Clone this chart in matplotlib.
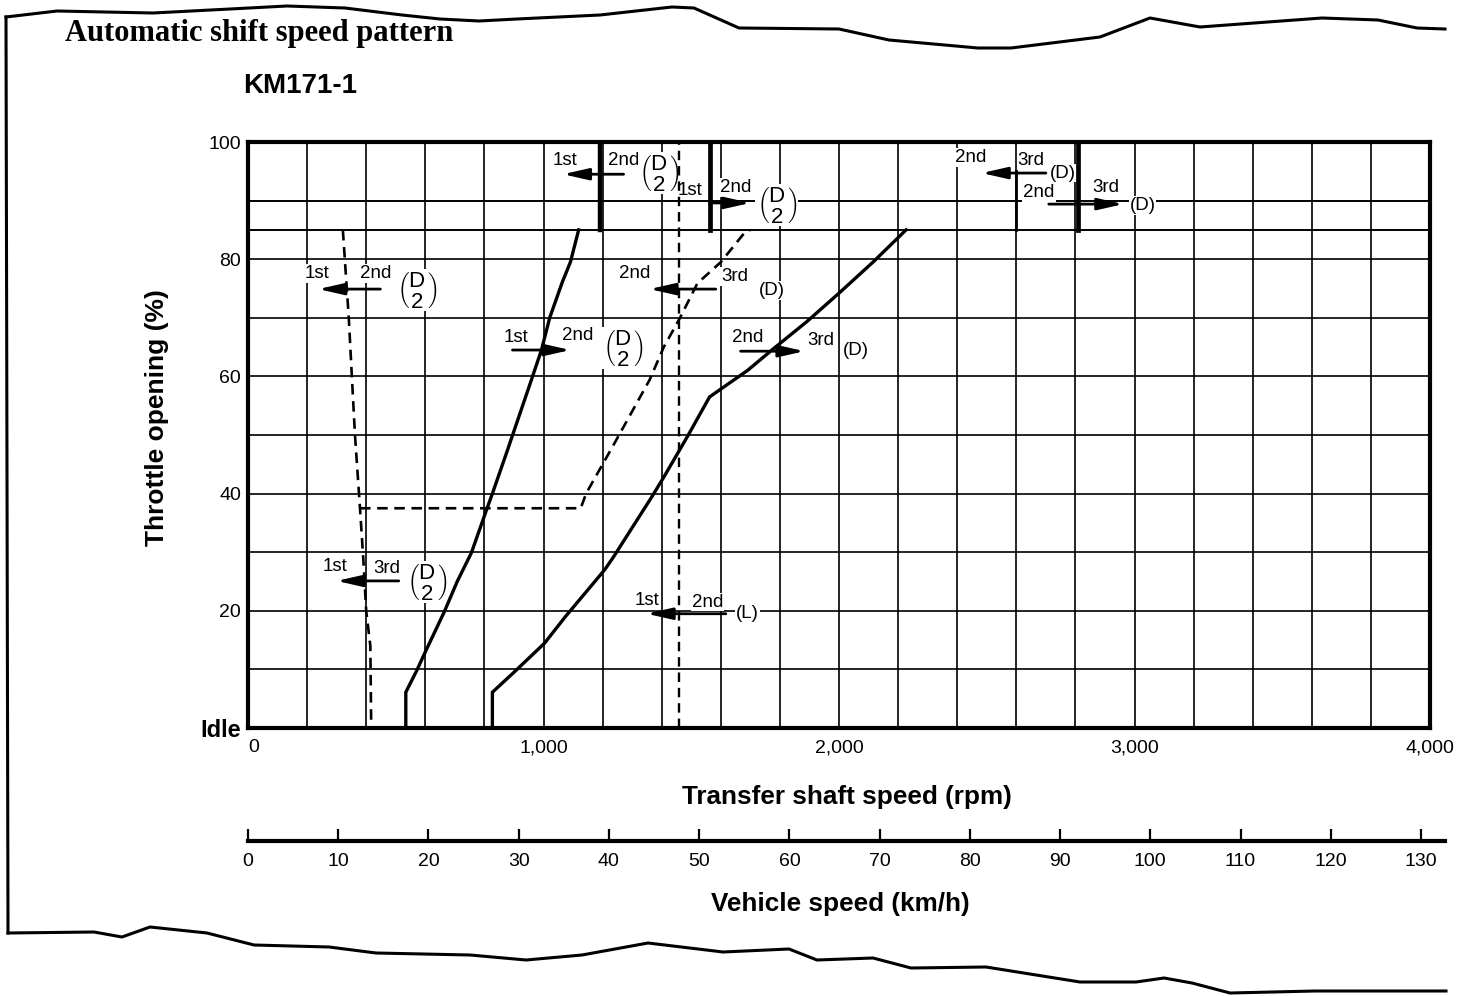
import matplotlib
matplotlib.use('Agg')
import matplotlib.pyplot as plt
from matplotlib.lines import Line2D

plt.rcParams['font.family'] = ['Liberation Sans', 'DejaVu Sans']
plt.rcParams['mathtext.fontset'] = 'custom'
plt.rcParams['mathtext.rm'] = 'Liberation Sans'
plt.rcParams['mathtext.it'] = 'Liberation Sans:italic'
plt.rcParams['mathtext.bf'] = 'Liberation Sans:bold'

# ---------------- data ----------------
# 1st -> 2nd upshift (D, 2), solid
up12_rpm = [534, 534, 569, 603, 664, 708, 756, 807, 827, 878, 959, 993, 1021, 1063, 1091, 1119]
up12_thr = [0, 6.1, 9.6, 13.3, 19.8, 25, 29.9, 37.2, 40, 47.4, 59.4, 64.5, 70, 76, 79.5, 85]

# 2nd -> 3rd upshift (D), solid
up23_rpm = [827, 827, 902, 1004, 1074, 1207, 1237, 1366, 1407, 1490, 1562, 1690, 1780, 1890, 2000, 2115, 2227]
up23_thr = [0, 6.1, 9.6, 14.5, 19, 27, 29.2, 39.4, 42.8, 50, 56.5, 61, 64.8, 69.3, 74.2, 79.5, 85]

# 1st <- 2nd / 1st <- 3rd downshift (D, 2), dashed
down1_rpm = [321, 341, 352, 362, 379, 390, 400, 414, 417]
down1_thr = [85, 70, 59.5, 50, 37.5, 29, 20, 14, 0]

# 2nd <- 3rd downshift (D), dashed
down23_rpm = [379, 1126, 1144, 1237, 1359, 1407, 1462, 1521, 1600, 1680, 1700]
down23_thr = [37.5, 37.5, 40, 48.3, 59.4, 65, 70, 75.9, 79.5, 84.5, 85]

# 1st <- 2nd (L) downshift, dashed vertical over the whole range
down12L_rpm = [1460, 1460]
down12L_thr = [0, 100]

# kickdown (85-100 %) shift points
kd_down12_rpm = [1190, 1190]
kd_up12_rpm = [1562, 1562]
kd_up23_rpm = [2810, 2810]
kd_thr = [85, 100]
kd_down23_rpm = [2600, 2600]
kd_down23_thr = [85, 95]

# axes ticks
rpm_ticks = [0, 1000, 2000, 3000, 4000]
rpm_tick_labels = ['0', '1,000', '2,000', '3,000', '4,000']
thr_ticks = [0, 20, 40, 60, 80, 100]
thr_tick_labels = ['Idle', '20', '40', '60', '80', '100']
rpm_grid = list(range(0, 4001, 200))
thr_grid = [10, 20, 30, 40, 50, 60, 70, 80, 85, 90]
kmh_ticks = [0, 10, 20, 30, 40, 50, 60, 70, 80, 90, 100, 110, 120, 130]

# shift-direction arrows: (tail rpm, head rpm, throttle %)
arrows = [
    (1271, 1066, 94.5), (1562, 1700, 89.6), (2700, 2483, 94.7), (2710, 2962, 89.4),
    (448, 238, 74.9), (1583, 1359, 74.9), (895, 1091, 64.5), (1667, 1883, 64.3),
    (510, 300, 25.1), (1617, 1349, 19.5),
]
BIN = r'$\genfrac{(}{)}{0}{0}{\mathrm{D}}{\mathrm{2}}$'
labels = [
    ('1st', 1074, 96.9), ('2nd', 1271, 96.9), (BIN, 1393, 94.7),
    ('1st', 1497, 91.8), ('2nd', 1650, 92.2), (BIN, 1790, 89.2),
    ('2nd', 2445, 97.3), ('3rd', 2650, 96.9), ('(D)', 2757, 94.7),
    ('2nd', 2677, 91.3), ('3rd', 2903, 92.2), ('(D)', 3027, 89.2),
    ('1st', 234, 77.6), ('2nd', 431, 77.6), (BIN, 572, 74.7),
    ('2nd', 1308, 77.6), ('3rd', 1647, 77.0), ('(D)', 1773, 74.7),
    ('1st', 908, 66.7), ('2nd', 1116, 67.0), (BIN, 1271, 64.8),
    ('2nd', 1690, 66.6), ('3rd', 1940, 66.2), ('(D)', 2058, 64.5),
    ('1st', 293, 27.5), ('3rd', 469, 27.3), (BIN, 607, 24.9),
    ('1st', 1349, 21.8), ('2nd', 1555, 21.5), ('(L)', 1690, 19.5),
]

# ---------------- figure ----------------
W, H = 1472, 996
fig = plt.figure(figsize=(W / 100, H / 100), dpi=100)
fig.patch.set_facecolor('white')

ax = fig.add_axes([248 / W, 1 - 728 / H, (1430 - 248) / W, (728 - 142) / H])
ax.set_xlim(0, 4000)
ax.set_ylim(0, 100)

for x in rpm_grid:
    ax.axvline(x, color='black', lw=1.2, zorder=1)
for y in thr_grid:
    ax.axhline(y, color='black', lw=1.4 if y in (85, 90) else 1.2, zorder=1)

for s in ax.spines.values():
    s.set_linewidth(3)
    s.set_zorder(6)

ax.set_xticks(rpm_ticks)
ax.set_xticklabels(rpm_tick_labels)
ax.set_yticks(thr_ticks)
ax.set_yticklabels(thr_tick_labels)
ax.tick_params(axis='x', length=0, pad=8, labelsize=14)
ax.tick_params(axis='y', length=0, pad=5, labelsize=14)
ax.get_yticklabels()[0].set_fontweight('bold')
ax.get_yticklabels()[0].set_fontsize(17)
ax.get_xticklabels()[0].set_ha('left')

ax.set_xlabel('Transfer shaft speed (rpm)', fontsize=18.8, fontweight='bold')
ax.xaxis.set_label_coords(0.507, -0.118)
ax.xaxis.label.set_va('center')
ax.set_ylabel('Throttle opening (%)', fontsize=19, fontweight='bold')
ax.yaxis.set_label_coords(-0.077, 0.529)
ax.yaxis.label.set_va('center')

# shift lines
ax.plot(up12_rpm, up12_thr, color='black', lw=2.4, zorder=4)
ax.plot(up23_rpm, up23_thr, color='black', lw=2.4, zorder=4)
dash = (0, (4, 2.5))
ax.plot(down1_rpm, down1_thr, color='black', lw=1.9, ls=dash, zorder=4)
ax.plot(down23_rpm, down23_thr, color='black', lw=1.9, ls=dash, zorder=4)
ax.plot(down12L_rpm, down12L_thr, color='black', lw=1.7, ls=dash, zorder=4)
ax.plot(kd_down12_rpm, kd_thr, color='black', lw=3.2, zorder=4)
ax.plot(kd_up12_rpm, kd_thr, color='black', lw=3.4, zorder=4)
ax.plot(kd_up23_rpm, kd_thr, color='black', lw=3.4, zorder=4)
ax.plot(kd_down23_rpm, kd_down23_thr, color='black', lw=2.0, zorder=4)

for tail, head, y in arrows:
    ax.annotate('', xy=(head, y), xytext=(tail, y),
                arrowprops=dict(arrowstyle='-|>,head_length=1.1,head_width=0.25',
                                lw=2.0, color='black', shrinkA=0, shrinkB=0,
                                mutation_scale=14),
                zorder=5)

for s, x, y in labels:
    fs = 16 if s == BIN else 13.5
    ax.text(x, y, s, ha='center', va='center', fontsize=fs, zorder=3,
            bbox=dict(boxstyle='square,pad=0.05', fc='white', ec='none'))

# vehicle speed scale
ax2 = fig.add_axes([248 / W, 1 - 841 / H, (1445 - 248) / W, 0.0001])
ax2.set_xlim(0, 132.66)
ax2.set_ylim(0, 1)
for s in ['top', 'left', 'right']:
    ax2.spines[s].set_visible(False)
ax2.spines['bottom'].set_linewidth(3)
ax2.set_yticks([])
ax2.set_xticks(kmh_ticks)
ax2.set_xticklabels([str(v) for v in kmh_ticks])
ax2.tick_params(axis='x', direction='in', length=9, width=1.6, pad=9, labelsize=14)
ax2.patch.set_alpha(0)

fig.text(840 / W, 1 - 904 / H, 'Vehicle speed (km/h)', fontsize=18.8, fontweight='bold',
         ha='center', va='center')
fig.text(65 / W, 1 - 33 / H, 'Automatic shift speed pattern', family=['Liberation Serif', 'DejaVu Serif'],
         fontweight='bold', fontsize=22, ha='left', va='center')
fig.text(243 / W, 1 - 86 / H, 'KM171-1', fontsize=20, fontweight='bold', ha='left', va='center')

# torn page edges of the scan (decoration, pixel coordinates of the page)
top_edge = [(6, 17), (57, 11), (153, 13), (230, 9), (287, 6), (345, 8), (402, 15), (440, 19),
            (479, 21), (517, 19), (600, 15), (672, 7), (694, 8), (739, 28), (839, 29), (889, 40),
            (978, 48), (1011, 48), (1100, 37), (1150, 18), (1200, 27), (1322, 18), (1378, 20),
            (1417, 28), (1445, 29)]
bottom_edge = [(8, 933), (94, 932), (122, 937), (150, 927), (207, 933), (254, 945), (329, 947),
               (376, 953), (470, 955), (526, 960), (582, 955), (648, 943), (723, 952), (789, 949),
               (817, 960), (873, 958), (911, 968), (986, 967), (1080, 982), (1136, 982),
               (1164, 978), (1192, 983), (1230, 993), (1315, 991), (1446, 991)]
left_edge = [(6, 17), (8, 933)]
for pts in (top_edge, bottom_edge, left_edge):
    fig.add_artist(Line2D([p[0] / W for p in pts], [1 - p[1] / H for p in pts],
                          transform=fig.transFigure, color='black', lw=2.2))

fig.savefig('out.png', dpi=100, facecolor='white')
